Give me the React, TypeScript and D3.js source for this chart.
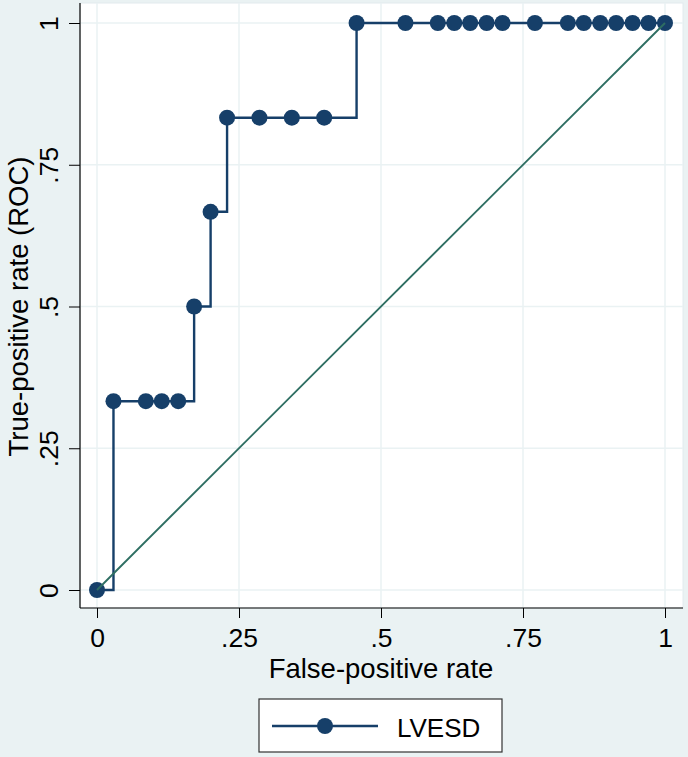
import React, { useEffect, useRef } from 'react';
import * as d3 from 'd3';

// ROC points
const fpRate: number[] = [
  0, 0.029, 0.086, 0.114, 0.143, 0.171, 0.2, 0.229, 0.286, 0.343, 0.4,
  0.457, 0.543, 0.6, 0.629, 0.657, 0.686, 0.714, 0.771, 0.829, 0.857,
  0.886, 0.914, 0.943, 0.971, 1,
];
const tpRate: number[] = [
  0, 0.333, 0.333, 0.333, 0.333, 0.5, 0.667, 0.833, 0.833, 0.833, 0.833,
  1, 1, 1, 1, 1, 1, 1, 1, 1, 1,
  1, 1, 1, 1, 1,
];
const tickValues: number[] = [0, 0.25, 0.5, 0.75, 1];
const tickLabels: string[] = ['0', '.25', '.5', '.75', '1'];
const seriesName = 'LVESD';
const xTitle = 'False-positive rate';
const yTitle = 'True-positive rate (ROC)';

const W = 688;
const H = 757;
const FONT = '"Liberation Sans", Arial, Helvetica, sans-serif';
const NAVY = '#163f69';
const TEAL = '#2e6e62';
const BG = '#eaf2f3';

const App: React.FC = () => {
  const svgRef = useRef<SVGSVGElement | null>(null);

  useEffect(() => {
    if (!svgRef.current) return;
    const svg = d3.select(svgRef.current);
    svg.selectAll('*').remove();

    const left = 80, right = 683, top = 3, bottom = 608;
    const x = d3.scaleLinear().domain([0, 1]).range([97, 665]);
    const y = d3.scaleLinear().domain([0, 1]).range([590, 23]);

    svg.append('rect').attr('width', W).attr('height', H).attr('fill', BG);
    svg.append('rect')
      .attr('x', left).attr('y', top)
      .attr('width', right - left).attr('height', bottom - top)
      .attr('fill', '#fff').attr('stroke', '#e2eaee');

    // grid
    const grid = svg.append('g').attr('stroke', BG).attr('stroke-width', 1.5);
    tickValues.forEach((t) => {
      grid.append('line').attr('x1', x(t)).attr('x2', x(t)).attr('y1', top).attr('y2', bottom);
      grid.append('line').attr('x1', left).attr('x2', right).attr('y1', y(t)).attr('y2', y(t));
    });

    // axes
    const xAxis = svg.append('g')
      .attr('transform', `translate(0,${bottom})`)
      .call(d3.axisBottom(x).tickValues(tickValues).tickSize(10)
        .tickFormat((_d, i) => tickLabels[i]));
    xAxis.select('.domain').remove();
    xAxis.selectAll('text')
      .attr('y', 39).attr('dy', null)
      .attr('font-size', 26.5).attr('font-family', FONT).attr('fill', '#000');

    const yAxis = svg.append('g')
      .attr('transform', `translate(${left},0)`)
      .call(d3.axisLeft(y).tickValues(tickValues).tickSize(11)
        .tickFormat((_d, i) => tickLabels[i]));
    yAxis.select('.domain').remove();
    yAxis.selectAll('text')
      .attr('transform', 'rotate(-90)')
      .attr('x', 0).attr('y', -22).attr('dy', null)
      .attr('text-anchor', 'middle')
      .attr('font-size', 26.5).attr('font-family', FONT).attr('fill', '#000');

    svg.append('line').attr('x1', left).attr('x2', left).attr('y1', top).attr('y2', bottom)
      .attr('stroke', '#000').attr('stroke-width', 1.2);
    svg.append('line').attr('x1', left).attr('x2', right).attr('y1', bottom).attr('y2', bottom)
      .attr('stroke', '#000').attr('stroke-width', 1.2);

    // step line + markers
    const pts: [number, number][] = fpRate.map((f, i) => [f, tpRate[i]]);
    const step = d3.line<[number, number]>()
      .x((d) => x(d[0])).y((d) => y(d[1]))
      .curve(d3.curveStepAfter);
    svg.append('path').attr('d', step(pts))
      .attr('fill', 'none').attr('stroke', NAVY).attr('stroke-width', 2.4);
    svg.append('g').selectAll('circle').data(pts).join('circle')
      .attr('cx', (d) => x(d[0])).attr('cy', (d) => y(d[1]))
      .attr('r', 8).attr('fill', NAVY);

    // reference line
    svg.append('line')
      .attr('x1', x(0)).attr('y1', y(0)).attr('x2', x(1)).attr('y2', y(1))
      .attr('stroke', TEAL).attr('stroke-width', 1.9);

    // titles
    svg.append('text').text(xTitle)
      .attr('x', (x(0) + x(1)) / 2).attr('y', 678)
      .attr('text-anchor', 'middle').attr('font-size', 27.5).attr('font-family', FONT);
    svg.append('text').text(yTitle)
      .attr('transform', `translate(28,${(y(0) + y(1)) / 2}) rotate(-90)`)
      .attr('text-anchor', 'middle').attr('font-size', 27.5).attr('font-family', FONT);

    // legend
    const lg = svg.append('g');
    lg.append('rect').attr('x', 259).attr('y', 699).attr('width', 243).attr('height', 53)
      .attr('fill', '#fff').attr('stroke', '#333').attr('stroke-width', 1.2);
    lg.append('line').attr('x1', 272).attr('x2', 378).attr('y1', 726).attr('y2', 726)
      .attr('stroke', NAVY).attr('stroke-width', 2.4);
    lg.append('circle').attr('cx', 325).attr('cy', 726).attr('r', 8).attr('fill', NAVY);
    lg.append('text').text(seriesName).attr('x', 397).attr('y', 737)
      .attr('font-size', 26).attr('font-family', FONT);
  }, []);

  return (
    <svg
      ref={svgRef}
      width={W}
      height={H}
      style={{ position: 'absolute', left: 0, top: 0, display: 'block' }}
    />
  );
};

export default App;
